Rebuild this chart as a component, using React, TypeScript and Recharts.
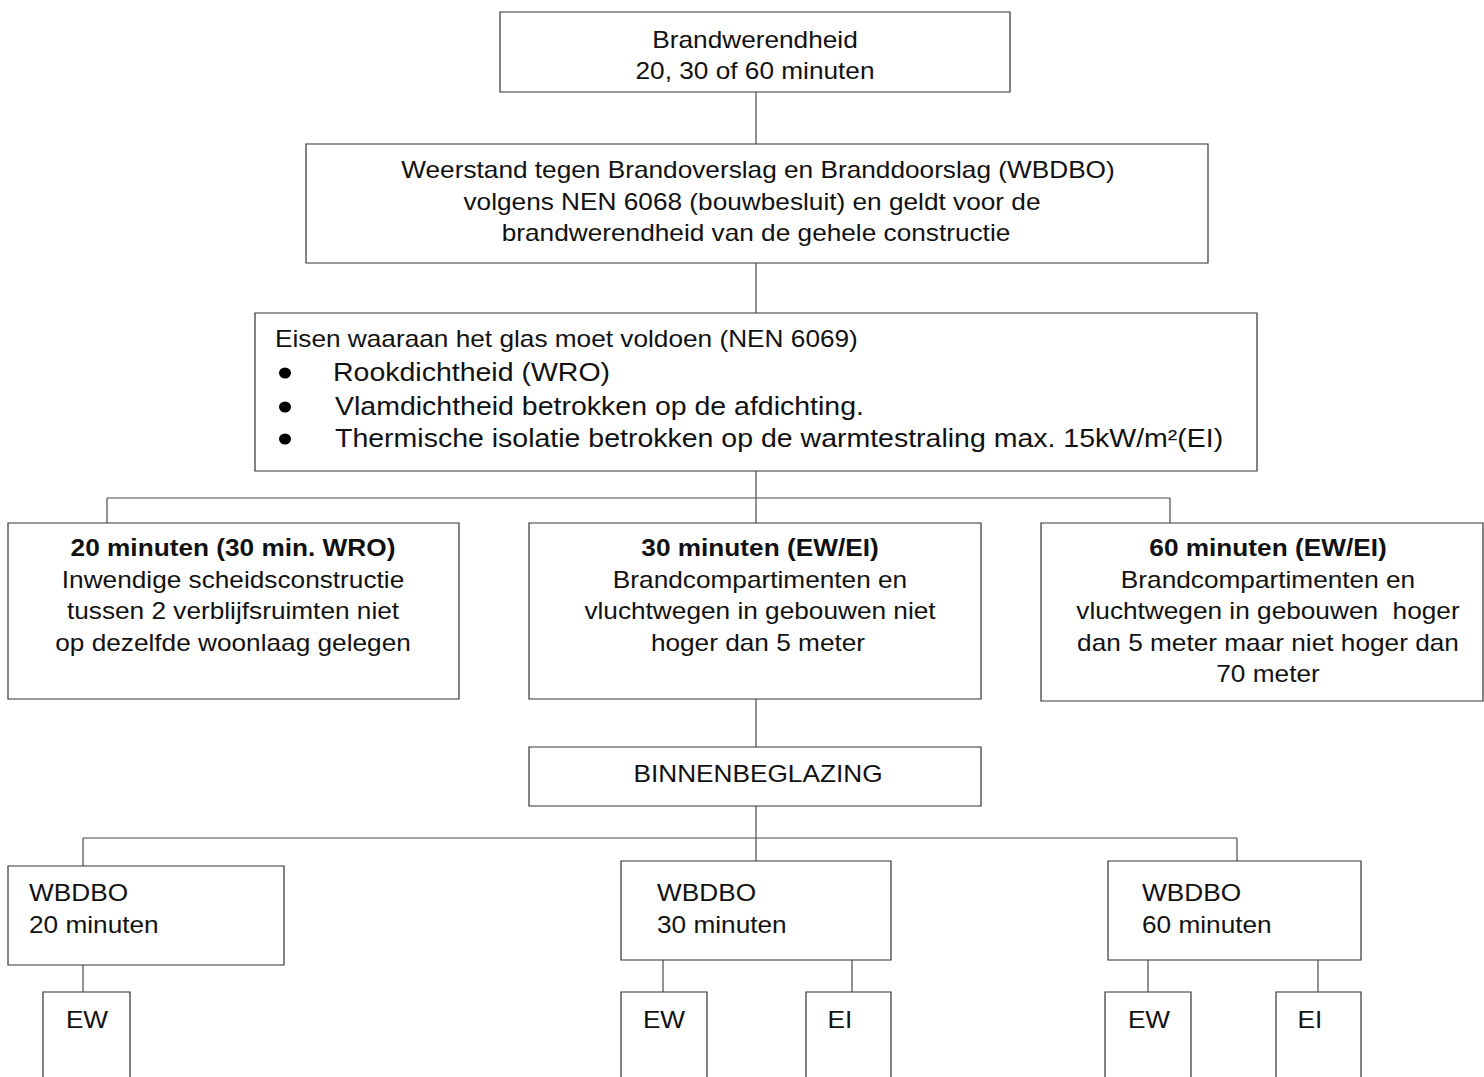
import React from 'react';
import { ScatterChart, Scatter, XAxis, YAxis, ReferenceArea, ReferenceLine } from 'recharts';

const W = 1484;
const H = 1077;

// Boxes of the flowchart: [x1, x2, y1, y2] in the chart's own units
const boxes = [
  { id: 'top', x1: 500, x2: 1010, y1: 12, y2: 92 },
  { id: 'wbdbo', x1: 306, x2: 1208, y1: 144, y2: 263 },
  { id: 'eisen', x1: 255, x2: 1257, y1: 313, y2: 471 },
  { id: 'm20', x1: 8, x2: 459, y1: 523, y2: 699 },
  { id: 'm30', x1: 529, x2: 981, y1: 523, y2: 699 },
  { id: 'm60', x1: 1041, x2: 1483, y1: 523, y2: 701 },
  { id: 'binnen', x1: 529, x2: 981, y1: 747, y2: 806 },
  { id: 'w20', x1: 8, x2: 284, y1: 866, y2: 965 },
  { id: 'w30', x1: 621, x2: 891, y1: 861, y2: 960 },
  { id: 'w60', x1: 1108, x2: 1361, y1: 861, y2: 960 },
  { id: 'ew20', x1: 43, x2: 130, y1: 992, y2: 1080 },
  { id: 'ew30', x1: 621, x2: 707, y1: 992, y2: 1080 },
  { id: 'ei30', x1: 806, x2: 891, y1: 992, y2: 1080 },
  { id: 'ew60', x1: 1105, x2: 1191, y1: 992, y2: 1080 },
  { id: 'ei60', x1: 1276, x2: 1361, y1: 992, y2: 1080 },
];

// Connector segments: [xa, ya, xb, yb]
const connectors = [
  [756, 92, 756, 144],
  [756, 263, 756, 313],
  [756, 471, 756, 523],
  [107, 498, 1170, 498],
  [107, 498, 107, 523],
  [1170, 498, 1170, 523],
  [756, 699, 756, 747],
  [756, 806, 756, 861],
  [83, 838, 1237, 838],
  [83, 838, 83, 866],
  [1237, 838, 1237, 861],
  [83, 965, 83, 992],
  [663, 960, 663, 992],
  [852, 960, 852, 992],
  [1148, 960, 1148, 992],
  [1318, 960, 1318, 992],
];

// Text labels: x, y (line centre), text, anchor, bold, size
const labels = [
  { x: 755, y: 40, t: 'Brandwerendheid', a: 'middle', b: false, s: 23 },
  { x: 755, y: 71, t: '20, 30 of 60 minuten', a: 'middle', b: false, s: 23 },
  { x: 758, y: 170, t: 'Weerstand tegen Brandoverslag en Branddoorslag (WBDBO)', a: 'middle', b: false, s: 23 },
  { x: 752, y: 202, t: 'volgens NEN 6068 (bouwbesluit) en geldt voor de', a: 'middle', b: false, s: 23 },
  { x: 756, y: 233, t: 'brandwerendheid van de gehele constructie', a: 'middle', b: false, s: 23 },
  { x: 275, y: 339, t: 'Eisen waaraan het glas moet voldoen (NEN 6069)', a: 'start', b: false, s: 23 },
  { x: 333, y: 372, t: 'Rookdichtheid (WRO)', a: 'start', b: false, s: 25 },
  { x: 335, y: 406, t: 'Vlamdichtheid betrokken op de afdichting.', a: 'start', b: false, s: 25 },
  { x: 335, y: 438, t: 'Thermische isolatie betrokken op de warmtestraling max. 15kW/m²(EI)', a: 'start', b: false, s: 25 },
  { x: 233, y: 548, t: '20 minuten (30 min. WRO)', a: 'middle', b: true, s: 23 },
  { x: 233, y: 580, t: 'Inwendige scheidsconstructie', a: 'middle', b: false, s: 23 },
  { x: 233, y: 611, t: 'tussen 2 verblijfsruimten niet', a: 'middle', b: false, s: 23 },
  { x: 233, y: 643, t: 'op dezelfde woonlaag gelegen', a: 'middle', b: false, s: 23 },
  { x: 760, y: 548, t: '30 minuten (EW/EI)', a: 'middle', b: true, s: 23 },
  { x: 760, y: 580, t: 'Brandcompartimenten en', a: 'middle', b: false, s: 23 },
  { x: 760, y: 611, t: 'vluchtwegen in gebouwen niet', a: 'middle', b: false, s: 23 },
  { x: 758, y: 643, t: 'hoger dan 5 meter', a: 'middle', b: false, s: 23 },
  { x: 1268, y: 548, t: '60 minuten (EW/EI)', a: 'middle', b: true, s: 23 },
  { x: 1268, y: 580, t: 'Brandcompartimenten en', a: 'middle', b: false, s: 23 },
  { x: 1268, y: 611, t: 'vluchtwegen in gebouwen  hoger', a: 'middle', b: false, s: 23 },
  { x: 1268, y: 643, t: 'dan 5 meter maar niet hoger dan', a: 'middle', b: false, s: 23 },
  { x: 1268, y: 674, t: '70 meter', a: 'middle', b: false, s: 23 },
  { x: 758, y: 774, t: 'BINNENBEGLAZING', a: 'middle', b: false, s: 23 },
  { x: 29, y: 893, t: 'WBDBO', a: 'start', b: false, s: 23 },
  { x: 29, y: 925, t: '20 minuten', a: 'start', b: false, s: 23 },
  { x: 657, y: 893, t: 'WBDBO', a: 'start', b: false, s: 23 },
  { x: 657, y: 925, t: '30 minuten', a: 'start', b: false, s: 23 },
  { x: 1142, y: 893, t: 'WBDBO', a: 'start', b: false, s: 23 },
  { x: 1142, y: 925, t: '60 minuten', a: 'start', b: false, s: 23 },
  { x: 87, y: 1020, t: 'EW', a: 'middle', b: false, s: 23 },
  { x: 664, y: 1020, t: 'EW', a: 'middle', b: false, s: 23 },
  { x: 840, y: 1020, t: 'EI', a: 'middle', b: false, s: 23 },
  { x: 1149, y: 1020, t: 'EW', a: 'middle', b: false, s: 23 },
  { x: 1310, y: 1020, t: 'EI', a: 'middle', b: false, s: 23 },
];

// Bullet points of the requirements list
const bullets = [
  { x: 285, y: 373 },
  { x: 285, y: 407 },
  { x: 285, y: 439 },
];

const FONT = '"Liberation Sans", Arial, Helvetica, sans-serif';

const TextShape = (props: any) => {
  const { cx, cy, payload } = props;
  if (cx == null || cy == null) return null;
  return (
    <text
      transform={`translate(${cx},${cy}) scale(1.14,1)`}
      x={0}
      y={0}
      dy={payload.s * 0.35}
      textAnchor={payload.a}
      fontFamily={FONT}
      fontSize={payload.s}
      fontWeight={payload.b ? 'bold' : 'normal'}
      fill="#111"
      style={{ whiteSpace: 'pre' }}
    >
      {payload.t}
    </text>
  );
};

const BulletShape = (props: any) => {
  const { cx, cy } = props;
  if (cx == null || cy == null) return null;
  return <ellipse cx={cx} cy={cy} rx={6} ry={5.5} fill="#000" />;
};

export default function App() {
  return (
    <div style={{ position: 'absolute', left: 0, top: 0, width: W, height: H, background: '#fff' }}>
      <ScatterChart width={W} height={H} margin={{ top: 0, right: 0, bottom: 0, left: 0 }}>
        <XAxis type="number" dataKey="x" domain={[0, W]} hide allowDataOverflow />
        <YAxis type="number" dataKey="y" domain={[0, H]} reversed hide width={0} allowDataOverflow />
        {connectors.map((c, i) => (
          <ReferenceLine
            key={'c' + i}
            segment={[{ x: c[0], y: c[1] }, { x: c[2], y: c[3] }]}
            stroke="#4a4a4a"
            strokeWidth={1.2}
            ifOverflow="visible"
          />
        ))}
        {boxes.map((b) => (
          <ReferenceArea
            key={b.id}
            x1={b.x1}
            x2={b.x2}
            y1={b.y1}
            y2={b.y2}
            fill="#ffffff"
            fillOpacity={1}
            stroke="#333333"
            strokeWidth={1.2}
            ifOverflow="visible"
          />
        ))}
        <Scatter data={bullets} shape={<BulletShape />} isAnimationActive={false} />
        <Scatter data={labels} shape={<TextShape />} isAnimationActive={false} />
      </ScatterChart>
    </div>
  );
}
